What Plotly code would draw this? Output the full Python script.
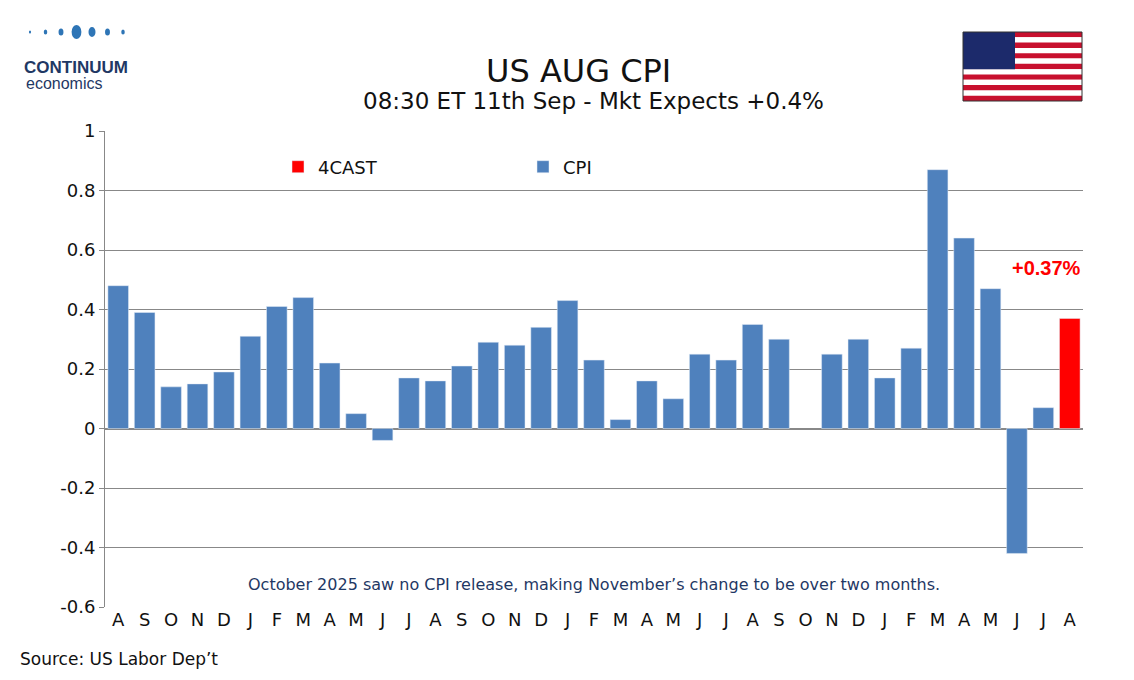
import plotly.graph_objects as go

months = ["A","S","O","N","D","J","F","M","A","M","J","J","A","S","O","N","D",
          "J","F","M","A","M","J","J","A","S","O","N","D","J","F","M","A","M","J","J","A"]
cpi = [0.48,0.39,0.14,0.15,0.19,0.31,0.41,0.44,0.22,0.05,-0.04,0.17,0.16,0.21,0.29,0.28,0.34,
       0.43,0.23,0.03,0.16,0.10,0.25,0.23,0.35,0.30,None,0.25,0.30,0.17,0.27,0.87,0.64,0.47,-0.42,0.07]
forecast = 0.37
ytick_vals = [-0.6, -0.4, -0.2, 0, 0.2, 0.4, 0.6, 0.8, 1]
ytick_text = ["-0.6", "-0.4", "-0.2", "0", "0.2", "0.4", "0.6", "0.8", "1"]

idx = list(range(len(months)))
blue = "#4f81bd"
FONT = "DejaVu Sans"

# plot area in pixels
L, R, T, B = 97, 1075, 123, 599
def px(x): return (x - L) / (R - L)
def py(y): return (B - y) / (B - T)

fig = go.Figure()
fig.add_trace(go.Bar(x=[idx[-1]], y=[forecast], name="4CAST", marker_color="#ff0000", width=0.78))
fig.add_trace(go.Bar(x=idx[:-1], y=cpi, name="CPI", marker_color=blue, width=0.78))

fig.add_annotation(x=idx[-1], y=forecast, text="<b>+0.37%</b>", showarrow=False, xshift=-23,
                   yshift=50, font=dict(color="#ff0000", size=20, family="Liberation Sans"))
fig.add_annotation(x=0.5, y=-0.525, xref="paper", yref="y",
                   text="October 2025 saw no CPI release, making November’s change to be over two months.",
                   showarrow=False, font=dict(color="#1f3864", size=16, family=FONT))

# title and source
fig.add_annotation(x=px(570), y=py(42), xref="paper", yref="paper", text="US AUG CPI",
                   showarrow=False, font=dict(size=32, color="#111", family=FONT))
fig.add_annotation(x=px(585), y=py(78), xref="paper", yref="paper", text="08:30 ET 11th Sep - Mkt Expects +0.4%",
                   showarrow=False, font=dict(size=23, color="#111", family=FONT))
fig.add_annotation(x=px(10), y=py(663), xref="paper", yref="paper", xanchor="left",
                   text="Source: US Labor Dep’t", showarrow=False, font=dict(size=17, color="#111", family=FONT))
# logo
fig.add_annotation(x=px(14), y=py(48), xref="paper", yref="paper", xanchor="left", text="<b>CONTINUUM</b>",
                   showarrow=False, font=dict(size=17, color="#1f3864", family="Liberation Sans"))
fig.add_annotation(x=px(16), y=py(65), xref="paper", yref="paper", xanchor="left", text="economics",
                   showarrow=False, font=dict(size=16, color="#1f3864", family="Liberation Sans"))
for i, r in enumerate([1.5, 2.5, 3.5, 7, 5, 3.5, 2.5]):
    cx = 22 + i * 15.5
    fig.add_shape(type="circle", xref="paper", yref="paper", x0=px(cx - r * 0.7), x1=px(cx + r * 0.7),
                  y0=py(24 + r), y1=py(24 - r), fillcolor="#2e75b6", line_width=0)

# flag
fx0, fx1, fy0, fy1 = 955, 1074, 24, 93
sh = (fy1 - fy0) / 13
for k in range(13):
    fig.add_shape(type="rect", xref="paper", yref="paper", x0=px(fx0), x1=px(fx1),
                  y0=py(fy0 + (k + 1) * sh), y1=py(fy0 + k * sh),
                  fillcolor="#c8102e" if k % 2 == 0 else "white", line_width=0)
fig.add_shape(type="rect", xref="paper", yref="paper", x0=px(fx0), x1=px(fx0 + 52),
              y0=py(fy0 + 7 * sh), y1=py(fy0), fillcolor="#1c2a6b", line_width=0)
fig.add_shape(type="rect", xref="paper", yref="paper", x0=px(fx0), x1=px(fx1),
              y0=py(fy1), y1=py(fy0), line=dict(color="#333", width=1))

fig.update_layout(
    width=1134, height=680,
    margin=dict(l=L, r=1134 - R, t=T, b=680 - B, autoexpand=False),
    plot_bgcolor="white", paper_bgcolor="white",
    font=dict(family=FONT, size=18, color="#111"),
    bargap=0.2, showlegend=True,
    legend=dict(orientation="h", x=px(270), y=py(159), xanchor="left", yanchor="middle",
                bgcolor="rgba(0,0,0,0)", font=dict(size=18), entrywidth=200),
    xaxis=dict(tickmode="array", tickvals=idx, ticktext=months, range=[-0.5, len(months) - 0.5],
               showgrid=False, showline=False, zeroline=False, tickfont=dict(size=18), automargin=False),
    yaxis=dict(range=[-0.6, 1], tickmode="array", tickvals=ytick_vals, ticktext=ytick_text,
               showgrid=True, gridcolor="#888", automargin=False,
               gridwidth=1, zeroline=True, zerolinecolor="#888", showline=True, linecolor="#888",
               ticks="outside", ticklen=5, tickcolor="#888", tickfont=dict(size=18)),
)
fig.write_html("out.html")
